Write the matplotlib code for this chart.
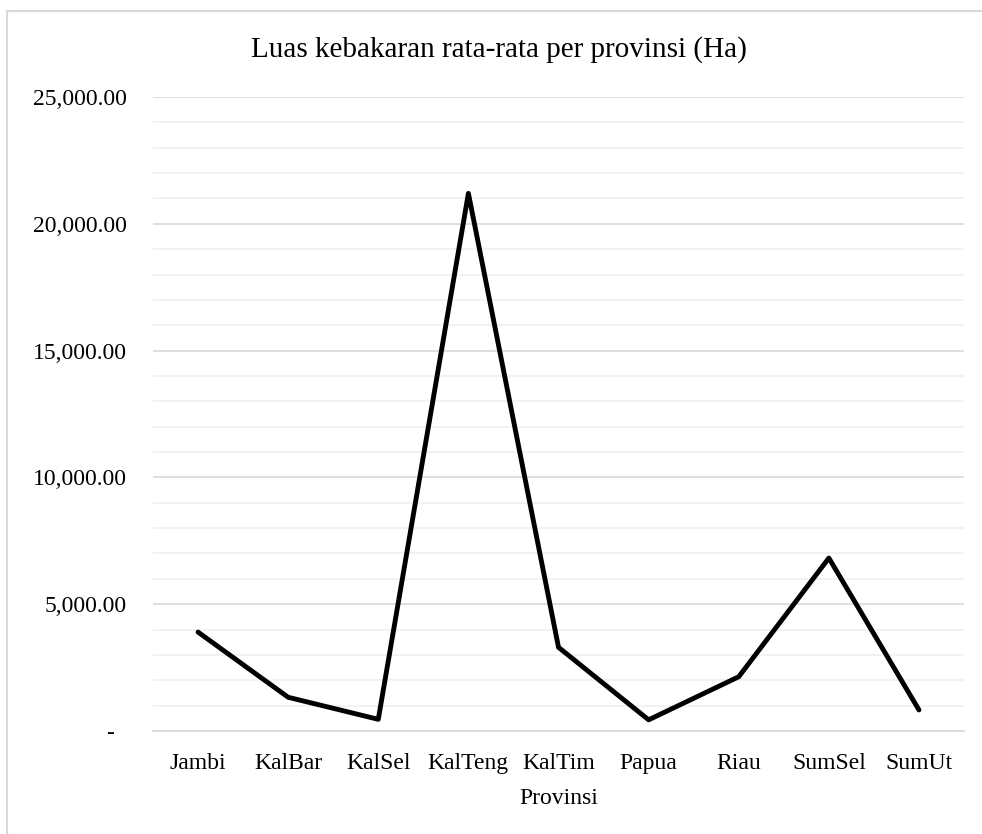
import numpy as np
from matplotlib import pyplot as plt
from matplotlib.ticker import MultipleLocator, FuncFormatter
from matplotlib.lines import Line2D

provinsi = ['Jambi', 'KalBar', 'KalSel', 'KalTeng', 'KalTim', 'Papua', 'Riau', 'SumSel', 'SumUt']
luas = [3900, 1330, 460, 21200, 3300, 440, 2140, 6820, 830]

plt.rcParams['font.family'] = ['Liberation Serif', 'DejaVu Serif']

fig = plt.figure(figsize=(9.82, 8.34), dpi=100)
ax = fig.add_axes([0.1558, 0.1235, 0.8259, 0.7602])

x = np.arange(len(provinsi))
ax.plot(x, luas, color='black', linewidth=3.5, solid_joinstyle='round', solid_capstyle='round', zorder=3)

ax.set_xlim(-0.5, len(provinsi) - 0.5)
ax.set_ylim(0, 25000)
ax.yaxis.set_major_locator(MultipleLocator(5000))
ax.yaxis.set_minor_locator(MultipleLocator(1000))

def fmt(v, pos):
    # zero is shown as a dash, like the accounting format
    if v == 0:
        return '-  '
    return '{:,.2f}'.format(v)

ax.yaxis.set_major_formatter(FuncFormatter(fmt))
ax.grid(which='major', axis='y', color='#d9d9d9', linewidth=1.2)
ax.grid(which='minor', axis='y', color='#f0f0f0', linewidth=1.2)
ax.set_axisbelow(True)

ax.set_xticks(x)
ax.set_xticklabels(provinsi)
ax.tick_params(axis='both', which='both', length=0, labelsize=17)
ax.tick_params(axis='x', pad=16)
ax.tick_params(axis='y', pad=18.7)

for s in ['top', 'right', 'left']:
    ax.spines[s].set_visible(False)
ax.spines['bottom'].set_color('#d9d9d9')
ax.spines['bottom'].set_linewidth(1.2)

ax.set_xlabel('Provinsi', fontsize=17, labelpad=10)
fig.text(499 / 982, 1 - 50 / 834, 'Luas kebakaran rata-rata per provinsi (Ha)',
         ha='center', va='center', fontsize=21)

# chart border (left and top edges visible)
fig.add_artist(Line2D([7 / 982, 7 / 982], [0, 1 - 11 / 834], color='#d9d9d9', linewidth=1.5))
fig.add_artist(Line2D([7 / 982, 1], [1 - 11 / 834, 1 - 11 / 834], color='#d9d9d9', linewidth=1.5))

fig.savefig('out.png', dpi=100)
